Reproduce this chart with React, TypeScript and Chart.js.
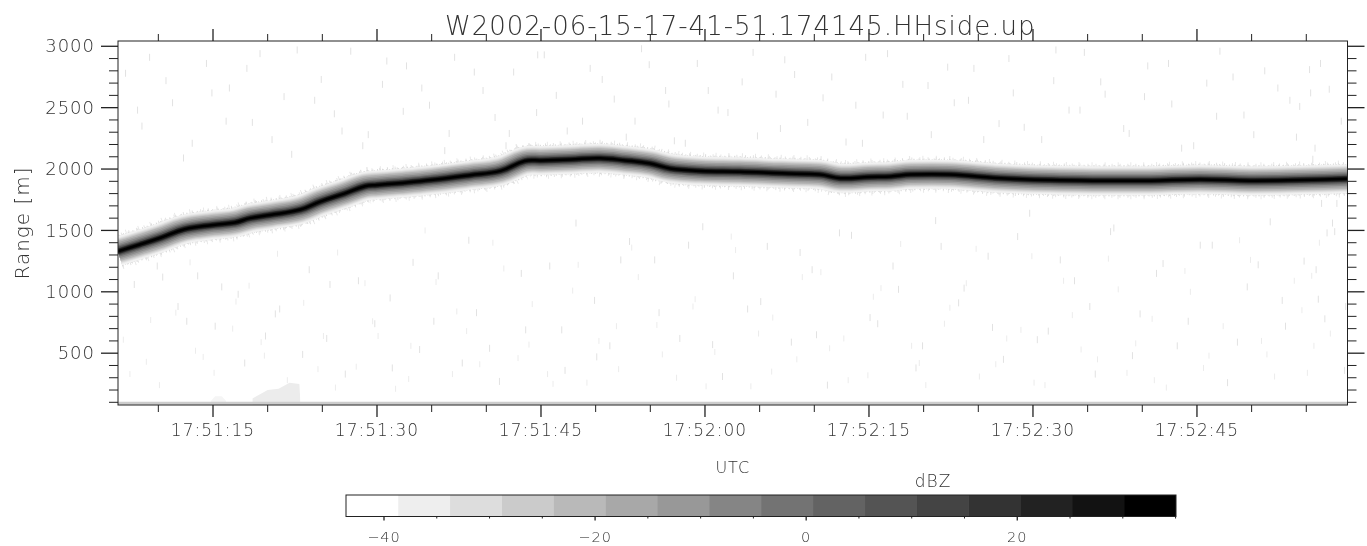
import React, { useEffect, useRef } from "react";
import { Chart, registerables } from "chart.js";

Chart.register(...registerables);

const PLOT_TITLE = "W2002-06-15-17-41-51.174145.HHside.up";
const X_MIN = 66.31;
const X_MAX = 178.77;
const Y_MIN = 78;
const Y_MAX = 3043;
const START_MIN = 17 * 60 + 50;

// seconds after 17:50:00
const ridgeTimes = [66.3, 68.3, 70.2, 72.4, 75, 77, 78.4, 80.2, 83, 84.8, 87, 88.9, 90, 92, 94.9, 98.5, 101.3, 103.5, 105, 107.7, 110.4, 112.7, 115, 116.8, 119.6, 123.2, 127, 130.5, 132.4, 135, 137, 138.8, 142.4, 147, 151.6, 156, 160.7, 165.3, 169.8, 174.4, 178.8];
const ridgeRanges = [1330, 1385, 1440, 1510, 1545, 1565, 1600, 1625, 1670, 1735, 1800, 1860, 1870, 1885, 1910, 1950, 1985, 2065, 2070, 2078, 2088, 2070, 2045, 2005, 1985, 1978, 1965, 1955, 1925, 1935, 1940, 1955, 1955, 1925, 1910, 1905, 1905, 1915, 1905, 1910, 1920];

const clutterTimes = [66.3, 90, 120, 150, 178.8];
const clutterRanges = [92, 92, 92, 92, 92];
const blobTimes = [78.6, 80, 81, 82, 82.9, 83];
const blobTops = [130, 200, 210, 260, 250, 90];
const faintBlobTimes = [74.8, 75.2, 75.8, 76.2];
const faintBlobTops = [110, 150, 150, 110];

const speckleTimes = [67, 68.5, 69.2, 70.4, 71.3, 72.6, 73.1, 74.4, 75.8, 76.5, 77.9, 78.6, 79.3, 80.7, 81.5, 82.2, 83.8, 84.9, 85.4, 86.1, 87.6, 88.3, 89.2, 90.5, 91.4, 92.7, 93.3, 94.8, 95.2, 96.6, 97.1, 98.4, 99.7, 100.3, 101.8, 102.5, 103.2, 104.6, 105.3, 106.9, 107.4, 108.2, 109.5, 110.1, 111.7, 112.3, 113.6, 114.2, 115.8, 116.4, 117.2, 118.5, 119.3, 120.7, 121.2, 122.6, 123.4, 124.8, 125.1, 126.5, 127.3, 128.7, 129.4, 130.2, 131.6, 132.3, 133.8, 134.4, 135.1, 136.7, 137.2, 138.5, 139.9, 140.4, 141.6, 142.2, 143.7, 144.1, 145.5, 146.3, 147.8, 148.6, 149.2, 150.4, 151.9, 152.5, 153.3, 154.7, 155.2, 156.6, 157.4, 158.8, 159.1, 160.5, 161.3, 162.7, 163.6, 164.2, 165.9, 166.4, 167.1, 168.7, 169.3, 170.6, 171.2, 172.8, 173.5, 174.1, 175.4, 175.9, 176.3, 176.7, 177.4, 178.2,
  67.8, 69.9, 71.8, 73.6, 75.2, 77.3, 79.8, 81.1, 83.2, 85.7, 87.1, 89.8, 91.2, 93.9, 95.6, 97.8, 99.1, 101.2, 103.6, 105.8, 107.2, 109.9, 111.3, 113.1, 115.4, 117.7, 119.8, 121.6, 123.9, 125.7, 127.9, 129.8, 131.2, 133.4, 135.8, 137.7, 139.3, 141.1, 143.2, 145.9, 147.3, 149.7, 151.4, 153.8, 155.7, 157.1, 159.8, 161.9, 163.2, 165.3, 167.8, 169.6, 171.7, 173.1, 174.8, 175.6, 176.1, 176.9, 177.8, 178.5,
  68.1, 70.7, 72.3, 74.9, 76.2, 78.1, 80.4, 82.7, 84.3, 86.8, 88.7, 90.9, 92.4, 94.1, 96.2, 98.9, 100.8, 102.1, 104.7, 106.4, 108.8, 110.6, 112.8, 114.9, 116.7, 118.2, 120.3, 122.1, 124.4, 126.9, 128.2, 130.8, 132.9, 134.7, 136.3, 138.1, 140.7, 142.8, 144.6, 146.9, 148.2, 150.8, 152.1, 154.3, 156.2, 158.3, 160.2, 162.4, 164.7, 166.8, 168.3, 170.2, 172.4, 174.4, 175.3, 175.8, 176.4, 177.1, 177.6, 178.6];
const speckleRanges = [2780, 2350, 2910, 1120, 2540, 760, 2210, 2860, 1040, 2660, 420, 2380, 2940, 820, 2590, 2120, 1180, 2730, 620, 2450, 2960, 1090, 2280, 2690, 380, 2840, 1240, 2520, 760, 2290, 2910, 1420, 2640, 540, 2190, 2790, 1150, 2460, 2930, 690, 2310, 1560, 2820, 470, 2570, 1260, 2390, 2980, 830, 2640, 2230, 1380, 2860, 570, 2480, 1130, 2710, 2270, 920, 2610, 2890, 1320, 2380, 650, 2750, 1480, 2520, 2210, 790, 2940, 1210, 2430, 560, 2680, 1370, 2830, 1030, 2560, 2240, 710, 2900, 1450, 2340, 610, 2720, 1260, 2480, 2950, 880, 2610, 1520, 2290, 480, 2840, 1150, 2530, 2170, 760, 2700, 1380, 2960, 590, 2440, 1220, 2800, 930, 2560, 2260, 2620, 1180, 2860, 780, 1560, 2390,
  1060, 1210, 880, 1130, 720, 980, 640, 860, 490, 1060, 330, 740, 950, 530, 1130, 420, 830, 270, 690, 1210, 360, 930, 560, 1410, 1260, 620, 1530, 310, 860, 1370, 590, 1180, 240, 1460, 740, 1020, 380, 1580, 910, 1290, 450, 1640, 680, 1090, 330, 1490, 820, 1230, 560, 1380, 260, 1040, 1570, 720, 1250, 2080, 940, 1480, 1720, 360,
  2480, 2720, 2090, 2620, 2390, 2820, 2240, 2970, 2560, 2310, 2190, 2880, 2470, 2660, 2150, 2790, 2420, 2290, 2930, 2600, 2390, 2730, 2260, 2850, 2530, 2210, 2640, 2460, 2950, 2330, 2770, 2580, 2220, 2910, 2440, 2690, 2280, 2540, 2820, 2370, 2620, 2240, 2970, 2480, 2710, 2330, 2590, 2860, 2190, 2430, 2750, 2280, 2660, 2510, 2810, 2170, 1720, 2650, 1490, 880];

const faintTimes = [66.8, 68.9, 70.1, 71.6, 73.4, 75.1, 76.8, 78.3, 79.7, 81.8, 83.3, 85.1, 86.4, 88.1, 89.6, 91.7, 93.1, 95.4, 96.9, 98.2, 100.6, 102.9, 104.2, 106.1, 108.4, 110.3, 112.1, 113.9, 115.6, 117.4, 119.1, 120.9, 122.8, 124.2, 126.2, 128.4, 130.6, 132.7, 134.9, 136.1, 138.9, 140.2, 142.4, 144.8, 146.6, 148.9, 150.1, 152.8, 154.4, 156.9, 158.6, 160.9, 162.2, 164.4, 166.1, 168.9, 170.9, 172.1, 174.6, 175.5,
  67.4, 69.3, 72.9, 74.1, 77.1, 79.4, 80.9, 84.6, 86.2, 88.9, 90.1, 92.9, 94.4, 97.3, 99.4, 101.6, 103.9, 105.6, 107.9, 109.2, 111.9, 113.3, 116.1, 118.9, 120.1, 122.4, 124.9, 126.1, 128.9, 131.4, 133.1, 135.4, 137.9, 139.6, 141.9, 143.9, 145.1, 147.6, 149.9, 151.1, 153.6, 155.9, 157.8, 159.4, 161.1, 163.9, 165.6, 167.4, 169.9, 171.4, 173.9, 175.1, 175.7, 176.2, 177.2];
const faintRanges = [610, 430, 240, 830, 520, 340, 700, 1050, 480, 280, 910, 640, 1320, 390, 760, 210, 560, 1080, 330, 680, 1400, 460, 900, 250, 1220, 600, 370, 1120, 730, 300, 940, 510, 1340, 230, 790, 450, 1160, 620, 320, 1030, 560, 240, 870, 1350, 410, 690, 260, 1090, 530, 1270, 340, 780, 220, 1000, 480, 1420, 600, 310, 850, 1130,
  330, 770, 1240, 470, 920, 590, 1310, 370, 220, 1070, 640, 290, 1500, 840, 410, 1190, 570, 330, 1010, 260, 720, 1360, 490, 880, 230, 1450, 660, 350, 1120, 540, 280, 960, 1390, 420, 740, 1070, 310, 620, 1290, 240, 810, 450, 1020, 580, 280, 1170, 380, 720, 1260, 490, 1090, 340, 560, 1400, 660];

const dashWidths = [37, 34, 31.5, 30];
const dashPatterns = [[1, 12], [1, 7], [1, 4], [1, 2]];
const dashGreys = ["#e8e8e8", "#e4e4e4", "#dcdcdc", "#d4d4d4"];
const layerWidths = [29, 26, 24, 22, 20, 17, 14, 11, 8.5, 6, 4.5, 2.5];
const layerGreys = ["#f2f2f2", "#e8e8e8", "#d8d8d8", "#c8c8c8", "#b4b4b4", "#a0a0a0", "#8a8a8a", "#707070", "#555555", "#333333", "#1a1a1a", "#000000"];

const colorbarEdges = [-43.6, -38.68, -33.77, -28.85, -23.94, -19.02, -14.11, -9.19, -4.28, 0.64, 5.55, 10.47, 15.38, 20.3, 25.21, 30.13, 35.04];
const colorbarGreys = ["#ffffff", "#eeeeee", "#dddddd", "#cbcbcb", "#b9b9b9", "#a8a8a8", "#989898", "#858585", "#737373", "#636363", "#545454", "#444444", "#333333", "#222222", "#121212", "#000000"];

const FONT = "'DejaVu Sans'";
const INK = "#333333";
const LINE = "#222222";

function hms(sec: number) {
  const total = START_MIN * 60 + sec;
  const h = Math.floor(total / 3600);
  const m = Math.floor((total % 3600) / 60);
  const s = total % 60;
  const pad = (n: number) => String(n).padStart(2, "0");
  return `${pad(h)}:${pad(m)}:${pad(s)}`;
}

type TickSpec = { axis: string; major: number; side: string; long: number; short: number };

const tickMarks = {
  id: "tickMarks",
  afterDraw(chart: any, _args: any, opts: any) {
    const { ctx, chartArea: a } = chart;
    ctx.save();
    ctx.strokeStyle = LINE;
    ctx.lineWidth = 1;
    ctx.strokeRect(a.left, a.top, a.right - a.left, a.bottom - a.top);
    (opts.specs as TickSpec[]).forEach((s) => {
      const scale = chart.scales[s.axis];
      scale.ticks.forEach((t: any) => {
        if (t.value < scale.min || t.value > scale.max) return;
        const isMajor = Math.abs(t.value % s.major) < 1e-6;
        const len = isMajor ? s.long : s.short;
        const p = scale.getPixelForValue(t.value);
        ctx.lineWidth = isMajor ? 1.3 : 1;
        ctx.beginPath();
        if (s.side === "bottom") { ctx.moveTo(p, a.bottom); ctx.lineTo(p, a.bottom + len); }
        if (s.side === "top") { ctx.moveTo(p, a.top); ctx.lineTo(p, a.top - len); }
        if (s.side === "left") { ctx.moveTo(a.left, p); ctx.lineTo(a.left - len, p); }
        if (s.side === "right") { ctx.moveTo(a.right, p); ctx.lineTo(a.right + len, p); }
        ctx.stroke();
      });
    });
    ctx.restore();
  },
};

const titleShift = {
  id: "titleShift",
  afterLayout(chart: any, _args: any, opts: any) {
    if (chart.titleBlock) {
      chart.titleBlock.left += opts.dx * 2;
      chart.titleBlock.top += opts.dy;
    }
  },
  beforeDraw(chart: any) {
    chart.ctx.letterSpacing = "1px";
  },
};

function zip(xs: number[], ys: number[]) {
  return xs.map((x, i) => ({ x, y: ys[i] }));
}

export default function App() {
  const mainRef = useRef<HTMLCanvasElement>(null);
  const barRef = useRef<HTMLCanvasElement>(null);

  useEffect(() => {
    const ridge = zip(ridgeTimes, ridgeRanges);
    const datasets: any[] = [];
    datasets.push({
      label: "speckle",
      data: zip(speckleTimes, speckleRanges),
      showLine: false,
      pointStyle: "line",
      pointRotation: 90,
      pointRadius: 3.5,
      pointBorderWidth: 1,
      pointBorderColor: "#e2e2e2",
      order: 100,
    });
    datasets.push({
      label: "speckle faint",
      data: zip(faintTimes, faintRanges),
      showLine: false,
      pointStyle: "line",
      pointRotation: 90,
      pointRadius: 3,
      pointBorderWidth: 1,
      pointBorderColor: "#ececec",
      order: 101,
    });
    dashWidths.forEach((w, i) => {
      datasets.push({
        label: "fuzz",
        data: ridge,
        borderColor: dashGreys[i],
        borderWidth: w,
        borderDash: dashPatterns[i],
        borderCapStyle: "butt",
        pointRadius: 0,
        tension: 0.4,
        order: 60 - i,
      });
    });
    layerWidths.forEach((w, i) => {
      datasets.push({
        label: "band",
        data: ridge,
        borderColor: layerGreys[i],
        borderWidth: w,
        borderJoinStyle: "round",
        pointRadius: 0,
        tension: 0.4,
        order: 50 - i,
      });
    });
    datasets.push({
      label: "clutter",
      data: zip(clutterTimes, clutterRanges),
      borderColor: "#cccccc",
      borderWidth: 3,
      pointRadius: 0,
      order: 10,
    });
    datasets.push({
      label: "blob",
      data: zip(blobTimes, blobTops),
      borderWidth: 0,
      borderColor: "transparent",
      backgroundColor: "#ececec",
      fill: { value: Y_MIN },
      pointRadius: 0,
      tension: 0,
      order: 90,
    });
    datasets.push({
      label: "faint blob",
      data: zip(faintBlobTimes, faintBlobTops),
      borderWidth: 0,
      borderColor: "transparent",
      backgroundColor: "#f5f5f5",
      fill: { value: Y_MIN },
      pointRadius: 0,
      tension: 0,
      order: 91,
    });

    const main = new Chart(mainRef.current!, {
      type: "line",
      data: { datasets },
      plugins: [tickMarks, titleShift],
      options: {
        animation: false,
        responsive: false,
        devicePixelRatio: 1,
        layout: { padding: { left: 0, top: 0, right: 19.5, bottom: 0 } },
        plugins: {
          legend: { display: false },
          tooltip: { enabled: false },
          title: {
            display: true,
            text: PLOT_TITLE,
            fullSize: false,
            color: INK,
            font: { family: FONT, size: 26, weight: "200" },
            padding: { top: 9.8, bottom: 0 },
          },
          titleShift: { dx: 7.5, dy: 2.5 },
          tickMarks: {
            specs: [
              { axis: "x", major: 15, side: "bottom", long: 12, short: 7 },
              { axis: "x", major: 15, side: "top", long: 12, short: 7 },
              { axis: "y", major: 500, side: "left", long: 17, short: 9 },
              { axis: "y", major: 500, side: "right", long: 17, short: 9 },
            ],
          },
        } as any,
        scales: {
          x: {
            type: "linear",
            min: X_MIN,
            max: X_MAX,
            afterFit: (s: any) => { s.height = 141; },
            grid: { display: false, drawTicks: false },
            border: { display: false },
            title: {
              display: true,
              text: "UTC",
              color: INK,
              font: { family: FONT, size: 16, weight: "200" },
              padding: { top: 0, bottom: 68 },
            },
            ticks: {
              includeBounds: false,
              stepSize: 5,
              autoSkip: false,
              maxRotation: 0,
              padding: 16,
              color: INK,
              font: { family: FONT, size: 17, weight: "200" },
              callback: (v: any) => (Number(v) % 15 === 0 ? hms(Number(v)) : ""),
            },
          },
          y: {
            type: "linear",
            min: Y_MIN,
            max: Y_MAX,
            afterFit: (s: any) => { s.width = 118; },
            grid: { display: false, drawTicks: false },
            border: { display: false },
            title: {
              display: true,
              text: "Range [m]",
              color: INK,
              font: { family: FONT, size: 20, weight: "200" },
              padding: { top: 12, bottom: 0 },
            },
            ticks: {
              includeBounds: false,
              stepSize: 100,
              autoSkip: false,
              padding: 23,
              labelOffset: 1.5,
              color: INK,
              font: { family: FONT, size: 18, weight: "200" },
              callback: (v: any) => (Number(v) % 500 === 0 ? String(v) : ""),
            },
          },
        },
      } as any,
    });

    const bar = new Chart(barRef.current!, {
      type: "bar",
      data: {
        labels: ["dBZ"],
        datasets: colorbarGreys.map((g, i) => ({
          label: `c${i}`,
          data: [[colorbarEdges[i], colorbarEdges[i + 1]]] as any,
          backgroundColor: g,
          borderWidth: 0,
          barPercentage: 1,
          categoryPercentage: 1,
          grouped: false,
        })),
      },
      plugins: [tickMarks, titleShift],
      options: {
        indexAxis: "y",
        animation: false,
        responsive: false,
        devicePixelRatio: 1,
        layout: { padding: { left: 346, right: 191, top: 0, bottom: 0 } },
        plugins: {
          legend: { display: false },
          tooltip: { enabled: false },
          title: {
            display: true,
            text: "dBZ",
            fullSize: false,
            color: INK,
            font: { family: FONT, size: 17, weight: "200" },
            padding: { top: 2, bottom: 2.6 },
          },
          titleShift: { dx: 172, dy: 0 },
          tickMarks: {
            specs: [{ axis: "x", major: 20, side: "bottom", long: 4, short: 2 }],
          },
        } as any,
        scales: {
          x: {
            type: "linear",
            min: colorbarEdges[0],
            max: colorbarEdges[colorbarEdges.length - 1],
            afterFit: (s: any) => { s.height = 29.5; },
            grid: { display: false, drawTicks: false },
            border: { display: false },
            ticks: {
              includeBounds: false,
              stepSize: 5,
              autoSkip: false,
              maxRotation: 0,
              padding: 13,
              color: INK,
              font: { family: FONT, size: 14.5, weight: "200" },
              callback: (v: any) =>
                Number(v) % 20 === 0 ? String(v).replace("-", "\u2212") : "",
            },
          },
          y: {
            type: "category",
            display: false,
            stacked: true,
          },
        },
      } as any,
    });

    return () => {
      main.destroy();
      bar.destroy();
    };
  }, []);

  return (
    <div style={{ position: "absolute", left: 0, top: 0, width: 1367, height: 546, background: "#fff", overflow: "hidden" }}>
      <canvas ref={mainRef} width={1367} height={546} style={{ position: "absolute", left: 0, top: 0, display: "block" }} />
      <canvas ref={barRef} width={1367} height={76} style={{ position: "absolute", left: 0, top: 470, display: "block" }} />
    </div>
  );
}
